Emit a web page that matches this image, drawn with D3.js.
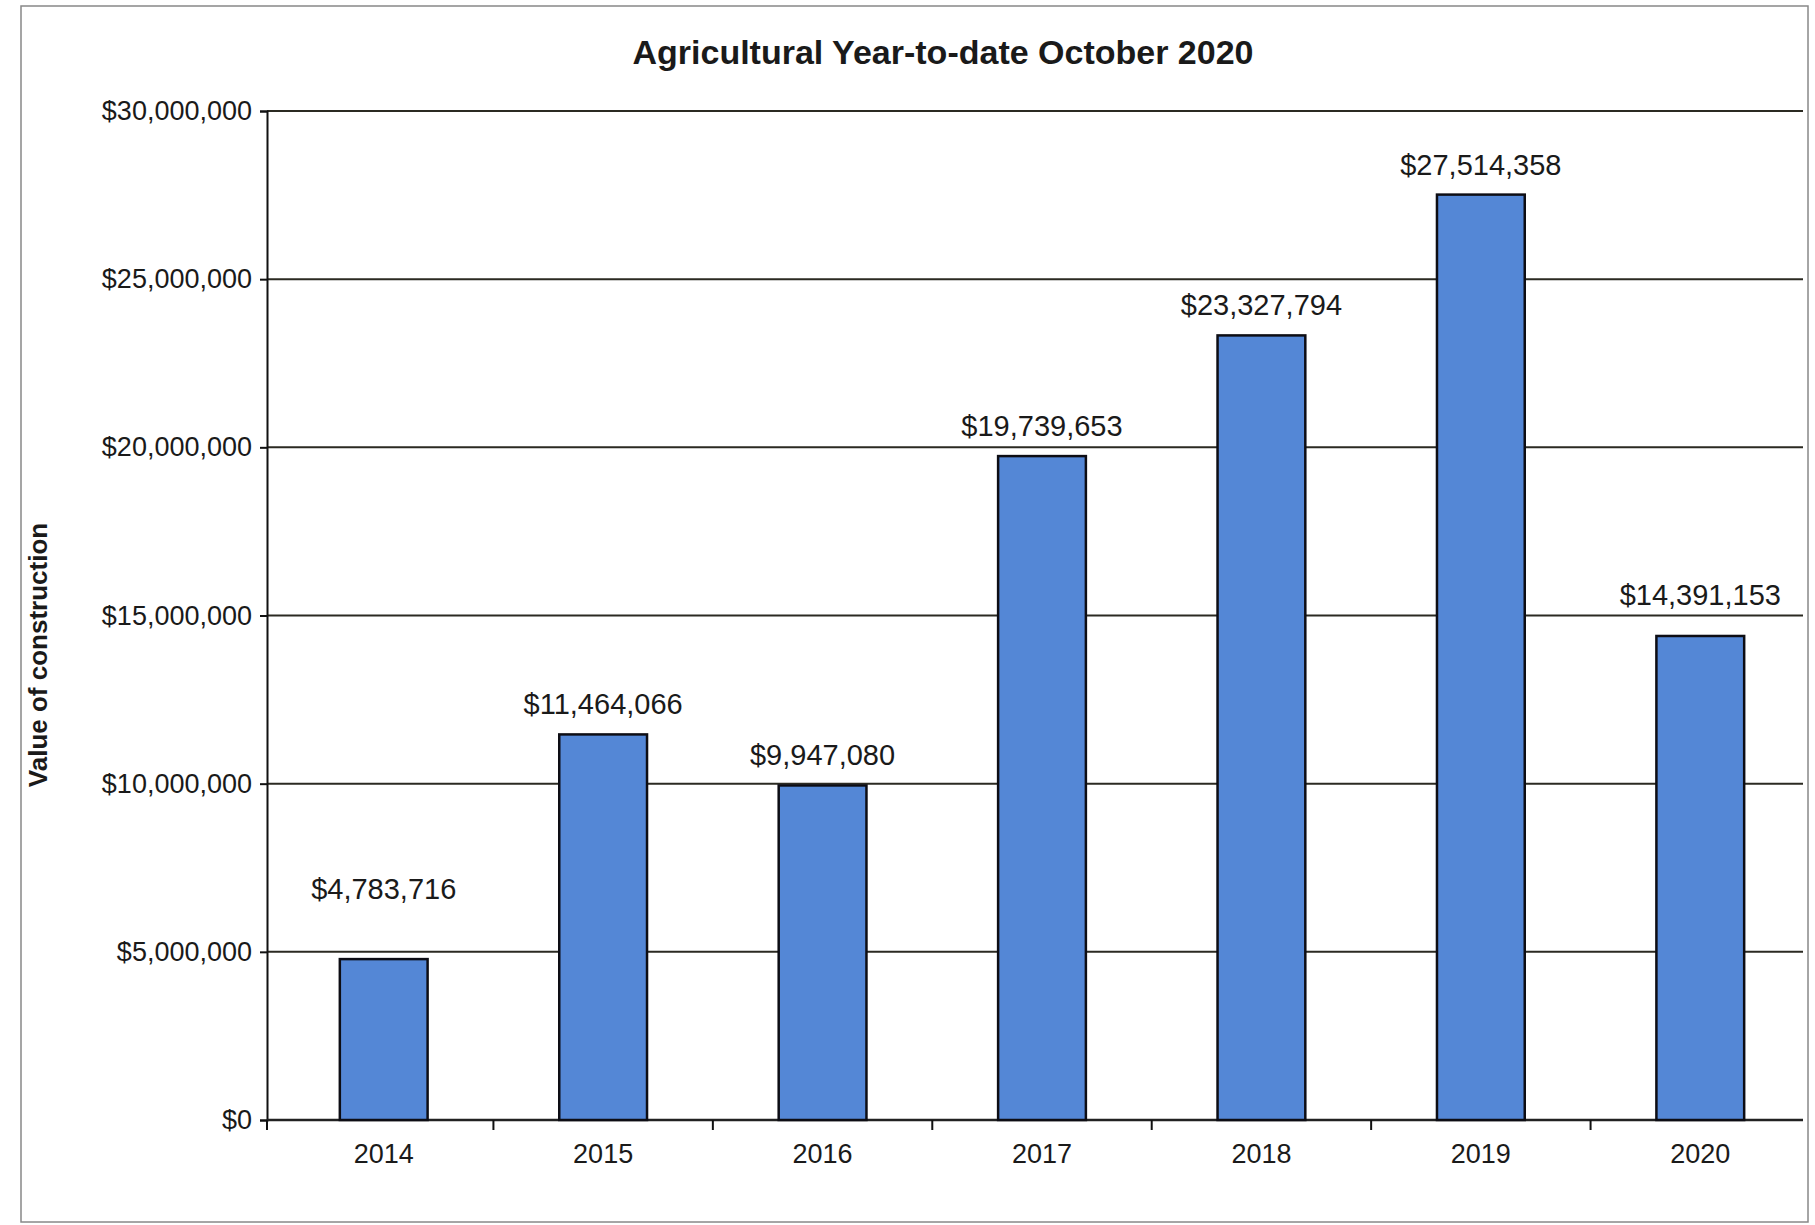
<!DOCTYPE html>
<meta charset="utf-8">
<script src="https://d3js.org/d3.v7.min.js"></script>
<style>
body { margin: 0; background: #fff; }
text { font-family: "Liberation Sans", Arial, sans-serif; fill: #1a1a1a; }
</style>
<body>
<div id="chart"></div>
<script>
// data
var years = ['2014', '2015', '2016', '2017', '2018', '2019', '2020'];
var values = [4783716, 11464066, 9947080, 19739653, 23327794, 27514358, 14391153];
var yTicks = [0, 5000000, 10000000, 15000000, 20000000, 25000000, 30000000];

var W = 1815, H = 1225;
var margin = {top: 111, right: 12, bottom: 105, left: 267};
var w = W - margin.left - margin.right;
var h = H - margin.top - margin.bottom;

var svg = d3.select('#chart')
    .append('svg')
    .attr('width', W)
    .attr('height', H);

// outer border of the chart area
svg.append('rect')
    .attr('x', 21).attr('y', 6)
    .attr('width', W - 28).attr('height', H - 9)
    .attr('fill', 'none')
    .attr('stroke', '#888')
    .attr('stroke-width', 1.5);

var g = svg.append('g')
    .attr('transform', 'translate(' + margin.left + ',' + margin.top + ')');

// categories sit a few px right of the value axis in the original
var x = d3.scaleBand()
    .domain(years)
    .range([7, w + 7])
    .paddingInner(0.6)
    .paddingOuter(0.3);

var y = d3.scaleLinear()
    .domain([0, 30000000])
    .range([h, 0]);

var fmt = d3.format('$,');

// horizontal gridlines
g.selectAll('.grid')
    .data(yTicks)
    .enter()
    .append('line')
    .attr('x1', 0).attr('x2', w)
    .attr('y1', function(d) { return y(d); })
    .attr('y2', function(d) { return y(d); })
    .attr('stroke', '#2b2a22')
    .attr('stroke-width', 2);

// y axis
var yaxis = d3.axisLeft(y)
    .tickValues(yTicks)
    .tickFormat(fmt)
    .tickSize(7)
    .tickPadding(8);

g.append('g')
    .call(yaxis)
    .call(function(a) {
        a.select('.domain').attr('stroke', '#111').attr('stroke-width', 2);
        a.selectAll('.tick line').attr('stroke', '#111').attr('stroke-width', 2);
        a.selectAll('text').style('font-size', '27px').attr('fill', '#1a1a1a');
    });

// x axis: ticks between categories
var step = x.step();
var boundaries = d3.range(years.length + 1).map(function(i) { return 7 + i * step; });

g.append('line')
    .attr('x1', 0).attr('x2', w)
    .attr('y1', h).attr('y2', h)
    .attr('stroke', '#222')
    .attr('stroke-width', 2.5);

g.selectAll('.xtick')
    .data(boundaries.slice(1, -1))
    .enter()
    .append('line')
    .attr('x1', function(d) { return d; })
    .attr('x2', function(d) { return d; })
    .attr('y1', h).attr('y2', h + 10)
    .attr('stroke', '#111')
    .attr('stroke-width', 2);

g.append('line')
    .attr('x1', 0).attr('x2', 0)
    .attr('y1', h).attr('y2', h + 10)
    .attr('stroke', '#111')
    .attr('stroke-width', 2);

g.selectAll('.xlabel')
    .data(years)
    .enter()
    .append('text')
    .attr('x', function(d) { return x(d) + x.bandwidth() / 2; })
    .attr('y', h + 43)
    .attr('text-anchor', 'middle')
    .style('font-size', '27px')
    .text(function(d) { return d; });

// bars
g.selectAll('.bar')
    .data(years)
    .enter()
    .append('rect')
    .attr('x', function(d) { return x(d); })
    .attr('y', function(d, i) { return y(values[i]); })
    .attr('width', x.bandwidth())
    .attr('height', function(d, i) { return h - y(values[i]); })
    .attr('fill', '#5487d6')
    .attr('stroke', '#0d0d14')
    .attr('stroke-width', 2.5);

// value labels (a couple were moved up by hand in the original)
var lift = {'2014': 40, '2020': 11};
g.selectAll('.vlabel')
    .data(years)
    .enter()
    .append('text')
    .attr('x', function(d) { return x(d) + x.bandwidth() / 2; })
    .attr('y', function(d, i) { return y(values[i]) - 20 - (lift[d] || 0); })
    .attr('text-anchor', 'middle')
    .style('font-size', '29px')
    .text(function(d, i) { return fmt(values[i]); });

// titles
svg.append('text')
    .attr('x', 943)
    .attr('y', 64)
    .attr('text-anchor', 'middle')
    .style('font-size', '34px')
    .style('font-weight', 'bold')
    .text('Agricultural Year-to-date October 2020');

svg.append('text')
    .attr('transform', 'translate(47,655) rotate(-90)')
    .attr('text-anchor', 'middle')
    .style('font-size', '26px')
    .style('font-weight', 'bold')
    .attr('fill', '#2a2810')
    .text('Value of construction');
</script>
</body>
